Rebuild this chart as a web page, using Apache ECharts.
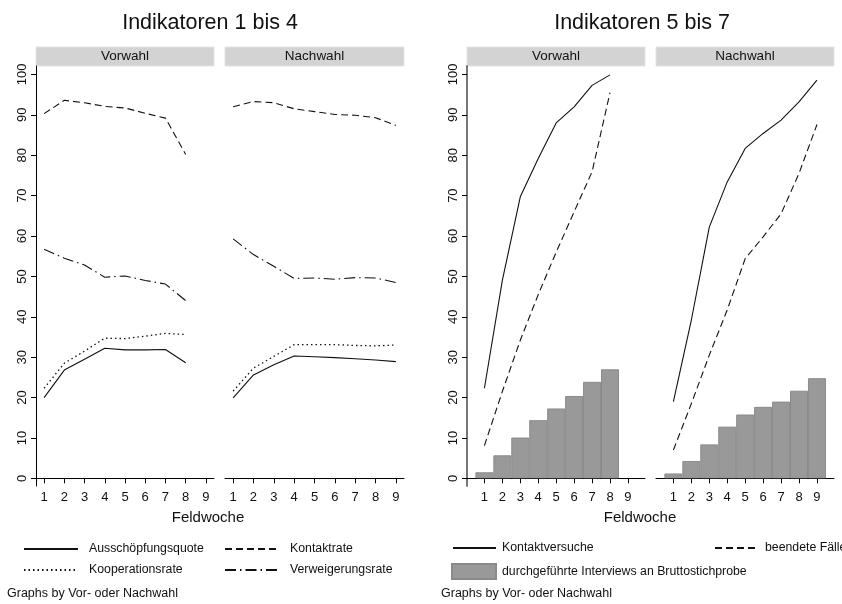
<!DOCTYPE html>
<html><head><meta charset="utf-8">
<script src="https://cdn.jsdelivr.net/npm/echarts@6/dist/echarts.min.js"></script>
<style>html,body{margin:0;padding:0;background:#fff}#c{width:842px;height:604px}</style>
</head><body><div id="c"></div>
<script>
const weeksV = [1,2,3,4,5,6,7,8];
const weeksN = [1,2,3,4,5,6,7,8,9];
const weekTicks = [1,2,3,4,5,6,7,8,9];
const yTicks = [0,10,20,30,40,50,60,70,80,90,100];
const panels = ['Vorwahl','Nachwahl'];
const titles = ['Indikatoren 1 bis 4','Indikatoren 5 bis 7'];
// Indikatoren 1-4
const ausV     = [20.0, 26.8, 29.5, 32.2, 31.8, 31.8, 31.9, 28.6];
const kontaktV = [90.3, 93.6, 93.0, 92.1, 91.7, 90.4, 89.2, 80.2];
const koopV    = [22.3, 28.5, 31.5, 34.7, 34.6, 35.2, 35.9, 35.6];
const verwV    = [56.7, 54.5, 52.8, 49.8, 50.1, 49.0, 48.1, 44.0];
const ausN     = [19.9, 25.6, 28.1, 30.3, 30.1, 29.9, 29.6, 29.3, 28.9];
const kontaktN = [92.0, 93.3, 93.0, 91.5, 90.8, 90.1, 89.9, 89.3, 87.4];
const koopN    = [21.6, 27.3, 30.2, 33.1, 33.1, 33.1, 32.9, 32.8, 33.0];
const verwN    = [59.3, 55.4, 52.5, 49.5, 49.6, 49.3, 49.7, 49.6, 48.5];
// Indikatoren 5-7
const versucheV   = [22.3, 49.0, 69.7, 79.2, 88.0, 92.0, 97.3, 99.9];
const beendetV    = [8.1, 21.5, 34.2, 45.5, 56.0, 66.0, 75.9, 95.5];
const interviewsV = [1.5, 5.7, 10.1, 14.4, 17.3, 20.4, 23.9, 27.0];
const versucheN   = [19.0, 39.2, 62.2, 73.4, 81.7, 85.4, 88.7, 93.2, 98.6];
const beendetN    = [7.0, 18.5, 30.5, 41.7, 54.4, 59.8, 65.5, 75.5, 87.6];
const interviewsN = [1.2, 4.3, 8.4, 12.8, 15.8, 17.7, 19.0, 21.7, 24.8];

const NAME_AUS='Ausschöpfungsquote', NAME_KON='Kontaktrate', NAME_KOOP='Kooperationsrate', NAME_VERW='Verweigerungsrate';
const NAME_VERS='Kontaktversuche', NAME_BEEN='beendete Fälle', NAME_INT='durchgeführte Interviews an Bruttostichprobe';
const FOOT = 'Graphs by Vor- oder Nachwahl', XNAME = 'Feldwoche';

const FONT = '"Liberation Sans", Arial, sans-serif';
const pairs = (w, a) => w.map((x, i) => [x, a[i]]);

const gridDefs = [
  {left: 36,  width: 178, xmin: 0.6,  xmax: 9.4,  yAxis: true,  yColor: '#000', yW: 1},
  {left: 225, width: 179, xmin: 0.6,  xmax: 9.4,  yAxis: false},
  {left: 467, width: 178, xmin: 0.03, xmax: 9.95, yAxis: true,  yColor: '#777', yW: 2},
  {left: 656, width: 178, xmin: 0.03, xmax: 9.95, yAxis: false}
];
const grid = gridDefs.map(g => ({left: g.left, width: g.width, top: 66, bottom: 118}));
const xAxis = gridDefs.map((g, i) => ({
  type: 'value', gridIndex: i, min: g.xmin, max: g.xmax,
  axisLine: {show: true, lineStyle: {color: '#000', width: 1}},
  axisTick: {show: true, length: 5, customValues: weekTicks, lineStyle: {color: '#000'}},
  axisLabel: {customValues: weekTicks, fontSize: 13, color: '#111', fontFamily: FONT, margin: 5},
  splitLine: {show: false}
}));
const yAxis = gridDefs.map((g, i) => ({
  type: 'value', gridIndex: i, min: -1.9, max: 102.1, show: g.yAxis,
  axisLine: {show: true, lineStyle: {color: g.yColor || '#000', width: g.yW || 1}},
  axisTick: {show: true, length: 5, customValues: yTicks, lineStyle: {color: '#000'}},
  axisLabel: {customValues: yTicks, rotate: 90, fontSize: 13, color: '#111', fontFamily: FONT, margin: 7},
  splitLine: {show: false}
}));

function line(name, gi, w, arr, dash, width) {
  return {
    type: 'line', name, xAxisIndex: gi, yAxisIndex: gi, data: pairs(w, arr),
    symbol: 'none', showSymbol: false, silent: true, animation: false,
    itemStyle: {color: '#111'},
    lineStyle: {color: '#111', width: width || 1.1, type: dash}
  };
}
const DASH = [7, 4], DOT = [1.5, 3], DASHDOT = [11, 4, 1.5, 4];
function bar(gi, w, arr) {
  return {
    type: 'bar', name: NAME_INT, xAxisIndex: gi, yAxisIndex: gi, data: pairs(w, arr),
    barWidth: 18, silent: true, animation: false, z: 1,
    itemStyle: {color: '#999999', borderColor: '#8a8a8a', borderWidth: 1}
  };
}
const series = [
  line(NAME_AUS, 0, weeksV, ausV, 'solid'),
  line(NAME_KON, 0, weeksV, kontaktV, DASH),
  line(NAME_KOOP, 0, weeksV, koopV, DOT, 1.3),
  line(NAME_VERW, 0, weeksV, verwV, DASHDOT),
  line(NAME_AUS, 1, weeksN, ausN, 'solid'),
  line(NAME_KON, 1, weeksN, kontaktN, DASH),
  line(NAME_KOOP, 1, weeksN, koopN, DOT, 1.3),
  line(NAME_VERW, 1, weeksN, verwN, DASHDOT),
  bar(2, weeksV, interviewsV),
  line(NAME_VERS, 2, weeksV, versucheV, 'solid'),
  line(NAME_BEEN, 2, weeksV, beendetV, DASH),
  bar(3, weeksN, interviewsN),
  line(NAME_VERS, 3, weeksN, versucheN, 'solid'),
  line(NAME_BEEN, 3, weeksN, beendetN, DASH)
];

function leg(name, left, top, w, textPad, isBar) {
  const o = {
    data: [name], left, top, itemWidth: w, itemHeight: isBar ? 15 : 12, itemGap: 0,
    selectedMode: false, padding: 0,
    textStyle: {fontSize: 12.3, color: '#111', fontFamily: FONT, padding: [0, 0, 0, textPad]}
  };
  if (isBar) { o.icon = 'rect'; }
  else { o.itemStyle = {opacity: 0}; }
  return o;
}
const legend = [
  leg(NAME_AUS, 23, 543, 54, 6), leg(NAME_KON, 224, 543, 54, 6),
  leg(NAME_KOOP, 23, 564, 54, 6), leg(NAME_VERW, 224, 564, 54, 6),
  leg(NAME_VERS, 452, 542, 43, 1), leg(NAME_BEEN, 714, 542, 44, 1),
  leg(NAME_INT, 451, 563, 44, 1, true)
];

const graphic = [];
function txt(x, y, text, size, align) {
  graphic.push({type: 'text', x, y, silent: true,
    style: {text, fontSize: size, fontFamily: FONT, fill: '#111', align: align || 'center', verticalAlign: 'middle'}});
}
txt(210, 23, titles[0], 21.5);
txt(642, 23, titles[1], 21.5);
gridDefs.forEach((g, i) => {
  graphic.push({type: 'rect', silent: true, shape: {x: g.left, y: 47, width: g.width, height: 19},
    style: {fill: '#d3d3d3', stroke: '#dfe6ec', lineWidth: 1}});
  txt(g.left + g.width / 2, 56.5, panels[i % 2], 13.5);
});
txt(208, 518, XNAME, 15);
txt(640, 518, XNAME, 15);
txt(7, 594, FOOT, 12.5, 'left');
txt(441, 594, FOOT, 12.5, 'left');

const chart = echarts.init(document.getElementById('c'), null, {renderer: 'canvas'});
chart.setOption({
  animation: false, backgroundColor: '#fff',
  textStyle: {fontFamily: FONT},
  grid, xAxis, yAxis, series, legend, graphic
});
</script></body></html>
